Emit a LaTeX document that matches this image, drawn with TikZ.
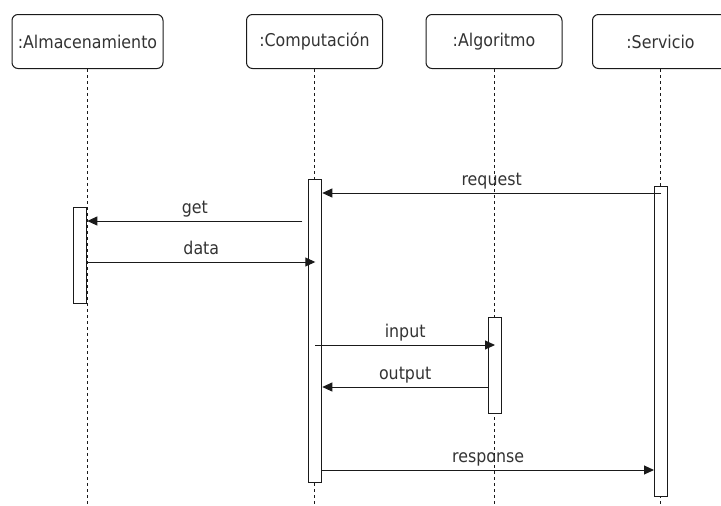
\documentclass[tikz,border=0pt]{standalone}
\usepackage{fontspec}
\setmainfont{DejaVu Sans Condensed}
\usetikzlibrary{arrows.meta,calc}
\definecolor{umlgray}{HTML}{333333}
\definecolor{umlline}{HTML}{1A1A1A}

\begin{document}
\begin{tikzpicture}[x=1pt,y=-1pt]
        \tikzstyle{every node}=[font=\fontsize{17.6}{20}\selectfont, text=umlgray]
        \tikzstyle{object}=[draw=umlline, line width=1pt, rounded corners=6pt, minimum height=54pt, inner sep=0pt]
        \tikzstyle{lifeline}=[umlline, line width=0.8pt, dash pattern=on 3pt off 3pt]
        \tikzstyle{activation}=[draw=umlline, fill=white, line width=1pt, minimum width=13pt, inner sep=0pt]
        \tikzstyle{call}=[umlline, line width=1pt, -{Triangle[length=10pt,width=9pt]}]
        \tikzstyle{msglabel}=[anchor=base, yshift=8pt]
        \useasboundingbox (0,0) rectangle (721,506);

        \node[object, minimum width=151pt] (almacenamiento) at (87.5,41.5) {:Almacenamiento};
        \node[object, minimum width=136pt] (computacion) at (314.5,41.5) {:Computación};
        \node[object, minimum width=136pt] (algoritmo) at (494,41.5) {:Algoritmo};
        \node[object, minimum width=136pt] (servicio) at (660.5,41.5) {:Servicio};

        \foreach \obj in {almacenamiento,computacion,algoritmo,servicio} {
            \coordinate (\obj End) at (\obj.south |- 0,506);
            \draw[lifeline] (\obj.south) -- (\obj End);
        }

        \node[activation, minimum height=96pt] (almacenamientoAct) at (80.3,255.4) {};
        \node[activation, minimum height=303pt] (computacionAct) at (315.3,331.2) {};
        \node[activation, minimum height=96pt] (algoritmoAct) at (495,365.5) {};
        \node[activation, minimum height=310pt] (servicioAct) at (661,341.5) {};

        \draw[call] (servicioAct.center |- 0,193) -- node[msglabel] {request} (computacionAct.east |- 0,193);
        \draw[call] ($(computacionAct.west |- 0,221)+(-6,0)$) -- node[msglabel] {get} (almacenamientoAct.east |- 0,221);
        \draw[call] (almacenamientoAct.east |- 0,262) -- node[msglabel] {data} (computacionAct.center |- 0,262);
        \draw[call] (computacionAct.center |- 0,345) -- node[msglabel] {input} (algoritmoAct.center |- 0,345);
        \draw[call] (algoritmoAct.west |- 0,387) -- node[msglabel] {output} (computacionAct.east |- 0,387);
        \draw[call] (computacionAct.east |- 0,470) -- node[msglabel] {response} (servicioAct.west |- 0,470);
    \end{tikzpicture}
\end{document}
